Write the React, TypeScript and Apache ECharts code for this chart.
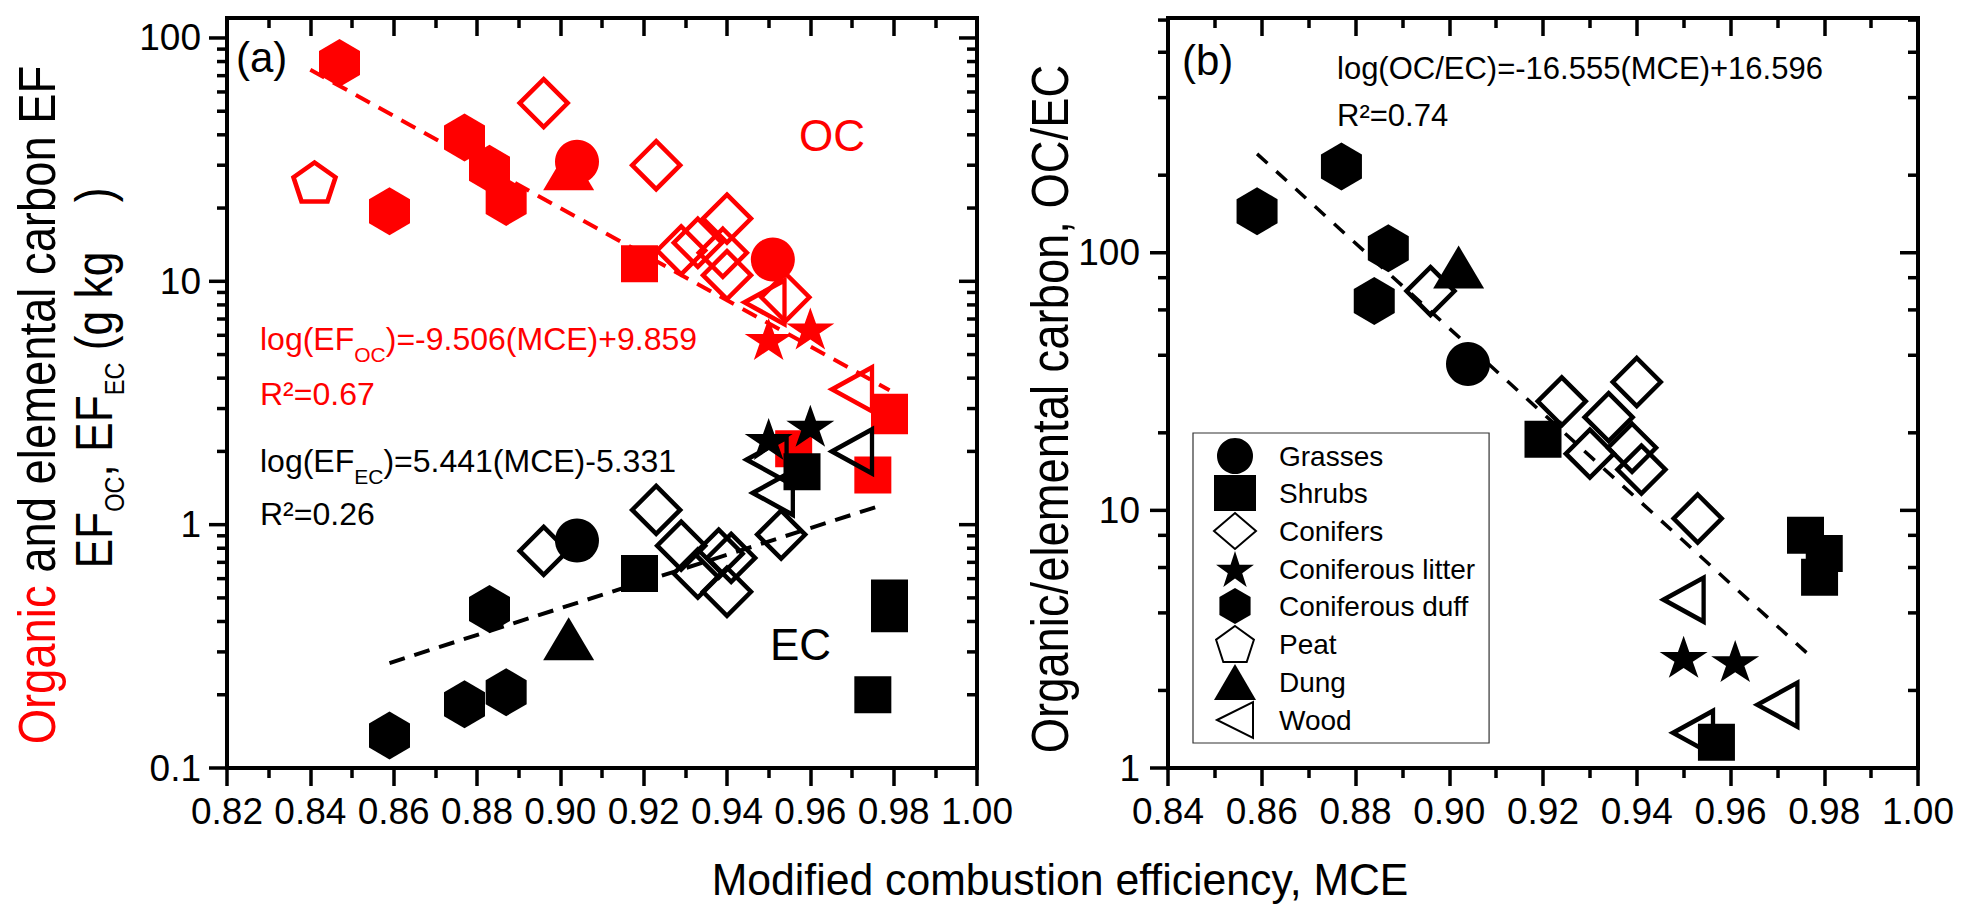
import React, { useEffect, useRef } from "react";
import * as echarts from "echarts";

const FONT = "'Liberation Sans', Arial, Helvetica, sans-serif";
const RED = "#ff0000";
const BLACK = "#000000";

// legend order
const categories = ["Grasses", "Shrubs", "Conifers", "Coniferous litter", "Coniferous duff", "Peat", "Dung", "Wood"];

// panel (a), OC emission factor (g/kg) against MCE
const grassesOC = [[0.904, 31], [0.951, 12.3]];
const shrubsOC = [[0.919, 11.8], [0.956, 2.05], [0.975, 1.6], [0.979, 2.9], [0.979, 2.8]];
const conifersOC = [[0.896, 54], [0.923, 30], [0.929, 13.4], [0.933, 14.4], [0.939, 13.1], [0.94, 18.1], [0.94, 10.6], [0.954, 8.6]];
const litterOC = [[0.95, 5.8], [0.96, 6.4]];
const duffOC = [[0.847, 79], [0.859, 19.4], [0.877, 39], [0.883, 29], [0.887, 21.2]];
const peatOC = [[0.841, 25.6]];
const dungOC = [[0.902, 29]];
const woodOC = [[0.949, 8.2], [0.97, 3.6]];

// panel (a), EC emission factor (g/kg) against MCE
const grassesEC = [[0.904, 0.86]];
const shrubsEC = [[0.919, 0.63], [0.958, 1.65], [0.975, 0.2], [0.979, 0.5], [0.979, 0.43]];
const conifersEC = [[0.896, 0.78], [0.923, 1.15], [0.929, 0.82], [0.933, 0.63], [0.938, 0.76], [0.941, 0.73], [0.94, 0.53], [0.953, 0.91]];
const litterEC = [[0.95, 2.25], [0.96, 2.55]];
const duffEC = [[0.859, 0.136], [0.877, 0.183], [0.883, 0.45], [0.887, 0.205]];
const peatEC: number[][] = [];
const dungEC = [[0.902, 0.34]];
const woodEC = [[0.9495, 1.85], [0.951, 1.35], [0.97, 2.0]];

// panel (b), OC/EC ratio against MCE
const grassesRatio = [[0.904, 37]];
const shrubsRatio = [[0.92, 18.9], [0.957, 1.26], [0.976, 8.0], [0.98, 6.8], [0.979, 5.5]];
const conifersRatio = [[0.896, 71], [0.924, 26.5], [0.93, 16.6], [0.934, 23], [0.939, 17.5], [0.94, 31.5], [0.941, 14.4], [0.953, 9.3]];
const litterRatio = [[0.95, 2.7], [0.961, 2.6]];
const duffRatio = [[0.859, 145], [0.877, 216], [0.884, 65], [0.887, 104]];
const peatRatio: number[][] = [];
const dungRatio = [[0.902, 88]];
const woodRatio = [[0.95, 4.5], [0.952, 1.37], [0.97, 1.76]];

// fitted lines (end points)
const ocFit = [[0.84, 74], [0.979, 3.57]];
const ecFit = [[0.859, 0.27], [0.977, 1.2]];
const ratioFit = [[0.859, 242], [0.978, 2.62]];

// axes
const xMinA = 0.82;
const xMinB = 0.84;
const xMax = 1.0;
const xStep = 0.02;
const yMinA = 0.1;
const yMaxA = 120.8;
const yMinB = 1;
const yMaxB = 815;
const decadesA = [0.1, 1, 10, 100];
const decadesB = [1, 10, 100];
const minorStepsA = [2, 3, 4, 5, 6, 7, 8, 9];
const minorStepsB = [2, 4, 6, 8];

const HEXAGON = "path://M0,-1L0.866,-0.5L0.866,0.5L0,1L-0.866,0.5L-0.866,-0.5Z";
const PENTAGON = "path://M0,-1L0.951,-0.309L0.588,0.809L-0.588,0.809L-0.951,-0.309Z";
const STAR =
  "path://M0,-1L0.225,-0.309L0.951,-0.309L0.363,0.118L0.588,0.809L0,0.382L-0.588,0.809L-0.363,0.118L-0.951,-0.309L-0.225,-0.309Z";
const LEFT_TRIANGLE = "path://M-1,0L1,-1L1,1Z";

const markers: Record<string, { symbol: string; size: number[]; hollow: boolean }> = {
  Grasses: { symbol: "circle", size: [44, 44], hollow: false },
  Shrubs: { symbol: "rect", size: [37, 37], hollow: false },
  Conifers: { symbol: "diamond", size: [48, 48], hollow: true },
  "Coniferous litter": { symbol: STAR, size: [48, 42], hollow: false },
  "Coniferous duff": { symbol: HEXAGON, size: [41, 48], hollow: false },
  Peat: { symbol: PENTAGON, size: [42, 39], hollow: true },
  Dung: { symbol: "triangle", size: [51, 43], hollow: false },
  Wood: { symbol: LEFT_TRIANGLE, size: [40, 44], hollow: true },
};

const ocSets = [grassesOC, shrubsOC, conifersOC, litterOC, duffOC, peatOC, dungOC, woodOC];
const ecSets = [grassesEC, shrubsEC, conifersEC, litterEC, duffEC, peatEC, dungEC, woodEC];
const ratioSets = [grassesRatio, shrubsRatio, conifersRatio, litterRatio, duffRatio, peatRatio, dungRatio, woodRatio];

// painting order (later on top)
const drawOrder = ["Dung", "Coniferous duff", "Peat", "Shrubs", "Conifers", "Wood", "Coniferous litter", "Grasses"];

const scatter = (name: string, cat: string, data: number[][], color: string, axis: number) => {
  const m = markers[cat];
  return {
    type: "scatter",
    name,
    data,
    xAxisIndex: axis,
    yAxisIndex: axis,
    symbol: m.symbol,
    symbolSize: m.size,
    itemStyle: m.hollow
      ? { color: "transparent", borderColor: color, borderWidth: 4.5, opacity: 1 }
      : { color, opacity: 1 },
    z: 3,
    silent: true,
  };
};

const fitLine = (data: number[][], color: string, axis: number, width: number, dash: number[]) => ({
  type: "line",
  data,
  xAxisIndex: axis,
  yAxisIndex: axis,
  symbol: "none",
  lineStyle: { color, width, type: dash, opacity: 1 },
  z: 2,
  silent: true,
});

const logTicks = (decades: number[], steps: number[], max: number) => {
  const out: number[][] = [];
  decades.forEach((d) => {
    out.push([d, 1]);
    steps.forEach((s) => {
      if (d * s < max) out.push([d * s, 0]);
    });
  });
  return out;
};

const tickSeries = (axis: number, xMin: number, ticks: number[][]) => ({
  type: "custom",
  xAxisIndex: axis,
  yAxisIndex: axis,
  clip: false,
  silent: true,
  z: 4,
  data: ticks.map((t) => [xMin, t[0], t[1]]),
  renderItem: (_params: any, api: any) => {
    const v = api.value(1);
    const len = api.value(2) ? 18 : 10;
    const l = api.coord([xMin, v]);
    const r = api.coord([xMax, v]);
    const style = { stroke: BLACK, lineWidth: 3.5 };
    return {
      type: "group",
      children: [
        { type: "line", shape: { x1: l[0] - len, y1: l[1], x2: l[0], y2: l[1] }, style },
        { type: "line", shape: { x1: r[0] - len, y1: r[1], x2: r[0], y2: r[1] }, style },
      ],
    };
  },
});

const axisLine = { show: true, onZero: false, lineStyle: { color: BLACK, width: 4, cap: "square" } };
const tickLine = { color: BLACK, width: 3.5 };

const xAxis = (gridIndex: number, min: number, position: string) => ({
  type: "value",
  gridIndex,
  position,
  min,
  max: xMax,
  interval: xStep,
  axisLine,
  axisTick: { show: true, inside: position === "top", length: 18, lineStyle: tickLine },
  minorTick: { show: true, splitNumber: 2, length: 10, lineStyle: tickLine },
  axisLabel: {
    show: position === "bottom",
    margin: 25,
    fontSize: 37,
    color: BLACK,
    fontFamily: FONT,
    formatter: (v: number) => v.toFixed(2),
  },
  splitLine: { show: false },
});

const decadeLabel = (v: number) => {
  const l = Math.log10(v);
  if (Math.abs(l - Math.round(l)) > 1e-6) return "";
  return v < 1 ? v.toFixed(1) : String(Math.round(v));
};

const yAxis = (gridIndex: number, min: number, max: number, position: string, margin: number) => ({
  type: "log",
  logBase: 10,
  gridIndex,
  position,
  min,
  max,
  axisLine,
  axisTick: { show: false },
  minorTick: { show: false },
  axisLabel: {
    show: position === "left",
    margin,
    fontSize: 37,
    color: BLACK,
    fontFamily: FONT,
    formatter: decadeLabel,
  },
  splitLine: { show: false },
});

const label = (x: number, y: number, text: string, size: number, color: string, extra: any = {}) => ({
  type: "text",
  x,
  y,
  z: 10,
  silent: true,
  ...extra,
  style: {
    text,
    fill: color,
    fontSize: size,
    fontFamily: FONT,
    align: extra.align || "left",
    textAlign: extra.align || "left",
    verticalAlign: "middle",
    textVerticalAlign: "middle",
    rich: extra.rich,
  },
});

const sub = (size: number, pad: number) => ({ fontSize: size, fontFamily: FONT, padding: [pad, 0, 0, 0] });

const App: React.FC = () => {
  const chartRef = useRef<HTMLDivElement>(null);

  useEffect(() => {
    if (!chartRef.current) return;
    const chart = echarts.init(chartRef.current, undefined, { renderer: "svg" });

    const series: any[] = [
      fitLine(ocFit, RED, 0, 4, [16, 10]),
      fitLine(ecFit, BLACK, 0, 4, [16, 10]),
      fitLine(ratioFit, BLACK, 2, 3.5, [14, 12]),
    ];
    drawOrder.forEach((cat) => {
      const i = categories.indexOf(cat);
      series.push(scatter(cat + " OC", cat, ocSets[i], RED, 0));
    });
    drawOrder.forEach((cat) => {
      const i = categories.indexOf(cat);
      series.push(scatter(cat + " EC", cat, ecSets[i], BLACK, 0));
    });
    drawOrder.forEach((cat) => {
      const i = categories.indexOf(cat);
      series.push(scatter(cat, cat, ratioSets[i], BLACK, 2));
    });
    series.push(tickSeries(0, xMinA, logTicks(decadesA, minorStepsA, yMaxA)));
    series.push(tickSeries(2, xMinB, logTicks(decadesB, minorStepsB, yMaxB)));

    const option = {
      animation: false,
      backgroundColor: "#ffffff",
      textStyle: { fontFamily: FONT },
      grid: [
        { left: 227, top: 18, width: 750, height: 750, outerBoundsMode: "none" },
        { left: 1168, top: 18, width: 750, height: 750, outerBoundsMode: "none" },
      ],
      xAxis: [xAxis(0, xMinA, "bottom"), xAxis(0, xMinA, "top"), xAxis(1, xMinB, "bottom"), xAxis(1, xMinB, "top")],
      yAxis: [
        yAxis(0, yMinA, yMaxA, "left", 26),
        yAxis(0, yMinA, yMaxA, "right", 0),
        yAxis(1, yMinB, yMaxB, "left", 28),
        yAxis(1, yMinB, yMaxB, "right", 0),
      ],
      legend: {
        data: categories,
        orient: "vertical",
        left: 1193,
        top: 433,
        itemWidth: 42,
        itemHeight: 36,
        itemGap: 1,
        padding: [5, 14, 4, 20],
        borderColor: "#333333",
        borderWidth: 1.2,
        selectedMode: false,
        textStyle: { fontSize: 28, lineHeight: 32, color: BLACK, fontFamily: FONT, padding: [0, 0, 0, 18] },
      },
      graphic: [
        label(236, 57, "(a)", 42, BLACK),
        label(1182, 60, "(b)", 42, BLACK),
        label(799, 135, "OC", 44, RED),
        label(770, 644, "EC", 44, BLACK),
        label(260, 339, "log(EF{s|OC})=-9.506(MCE)+9.859", 32, RED, { rich: { s: sub(21, 31) } }),
        label(260, 394, "R²=0.67", 32, RED),
        label(260, 461, "log(EF{s|EC})=5.441(MCE)-5.331", 32, BLACK, { rich: { s: sub(21, 31) } }),
        label(260, 514, "R²=0.26", 32, BLACK),
        label(1337, 68, "log(OC/EC)=-16.555(MCE)+16.596", 31, BLACK),
        label(1337, 115, "R²=0.74", 31, BLACK),
        label(1060, 879, "Modified combustion efficiency, MCE", 45, BLACK, { align: "center", scaleX: 0.95 }),
        label(37, 405, "{r|Organic} and elemental carbon EF", 51, BLACK, {
          align: "center",
          rotation: Math.PI / 2,
          scaleX: 0.89,
          rich: { r: { fill: RED, fontSize: 51, fontFamily: FONT } },
        }),
        label(94, 378, "EF{s|OC}, EF{s|EC} (g kg    )", 51, BLACK, {
          align: "center",
          rotation: Math.PI / 2,
          scaleX: 0.87,
          rich: { s: sub(27, 41) },
        }),
        label(1050, 409, "Organic/elemental carbon, OC/EC", 51, BLACK, {
          align: "center",
          rotation: Math.PI / 2,
          scaleX: 0.89,
        }),
      ],
      series,
    };

    chart.setOption(option);
    return () => chart.dispose();
  }, []);

  return (
    <div
      ref={chartRef}
      style={{ position: "fixed", left: 0, top: 0, width: "1969px", height: "922px", background: "#fff" }}
    ></div>
  );
};

export default App;
